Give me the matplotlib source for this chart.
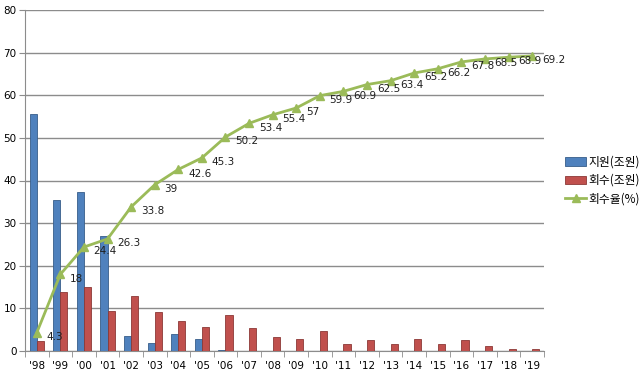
import matplotlib
matplotlib.use("Agg")
import matplotlib.pyplot as plt
import numpy as np

years = ["'98", "'99", "'00", "'01", "'02", "'03", "'04", "'05", "'06", "'07", "'08",
         "'09", "'10", "'11", "'12", "'13", "'14", "'15", "'16", "'17", "'18", "'19"]
support = [55.6, 35.5, 37.2, 27.0, 3.5, 2.0, 3.9, 2.8, 0.2, 0, 0,
           0, 0, 0, 0, 0, 0, 0, 0, 0, 0, 0]
recovered = [2.4, 13.9, 15.0, 9.3, 13.0, 9.1, 7.1, 5.7, 8.4, 5.4, 3.3,
             2.8, 4.7, 1.7, 2.5, 1.7, 2.8, 1.6, 2.5, 1.3, 0.4, 0.4]
rate = [4.3, 18, 24.4, 26.3, 33.8, 39, 42.6, 45.3, 50.2, 53.4, 55.4,
        57, 59.9, 60.9, 62.5, 63.4, 65.2, 66.2, 67.8, 68.5, 68.9, 69.2]

plt.rcParams['font.family'] = ['Noto Sans CJK KR', 'DejaVu Sans']

fig = plt.figure(figsize=(6.4, 3.8), dpi=100)
ax = fig.add_axes([0.039, 0.076, 0.811, 0.898])

x = np.arange(len(years))
w = 0.3
b1 = ax.bar(x - w / 2, support, w, color="#4F81BD", edgecolor="#385D8A", linewidth=0.6,
            label="지원(조원)", zorder=3)
b2 = ax.bar(x + w / 2, recovered, w, color="#C0504D", edgecolor="#8C3836", linewidth=0.6,
            label="회수(조원)", zorder=3)
ln, = ax.plot(x, rate, color="#9BBB59", linewidth=2.0, marker="^", markersize=5.5,
              markerfacecolor="#9BBB59", markeredgecolor="#9BBB59", label="회수율(%)",
              zorder=4)

for xi, v in zip(x, rate):
    ax.annotate(f"{v:g}", (xi, v), xytext=(7, -3), textcoords="offset points",
                fontsize=7.5, color="#1F1F1F", va="center", ha="left", zorder=5,
                family=['DejaVu Sans'])

ax.set_xlim(-0.5, len(years) - 0.5)
ax.set_ylim(0, 80)
ax.set_yticks(range(0, 81, 10))
ax.yaxis.grid(True, color="#8C8C8C", linewidth=1.0, zorder=0)
ax.set_axisbelow(True)

ax.set_xticks(x)
ax.set_xticklabels(years, fontsize=7.5, family=['DejaVu Sans'])
ax.set_xticks(np.arange(-0.5, len(years)), minor=True)
ax.tick_params(axis="x", which="major", length=0, pad=7)
ax.tick_params(axis="x", which="minor", length=4, color="#8C8C8C")
ax.tick_params(axis="y", length=4, color="#8C8C8C", labelsize=7.5, pad=2)
for lab in ax.get_yticklabels():
    lab.set_family(['DejaVu Sans'])

for s in ["top", "right"]:
    ax.spines[s].set_visible(False)
for s in ["left", "bottom"]:
    ax.spines[s].set_color("#8C8C8C")

ax.legend([b1, b2, ln], ["지원(조원)", "회수(조원)", "회수율(%)"],
          loc="center left", bbox_to_anchor=(1.02, 0.5), frameon=False,
          fontsize=8.5, handlelength=1.8, handletextpad=0.2, labelspacing=0.45)

fig.savefig("out.png", dpi=100)
